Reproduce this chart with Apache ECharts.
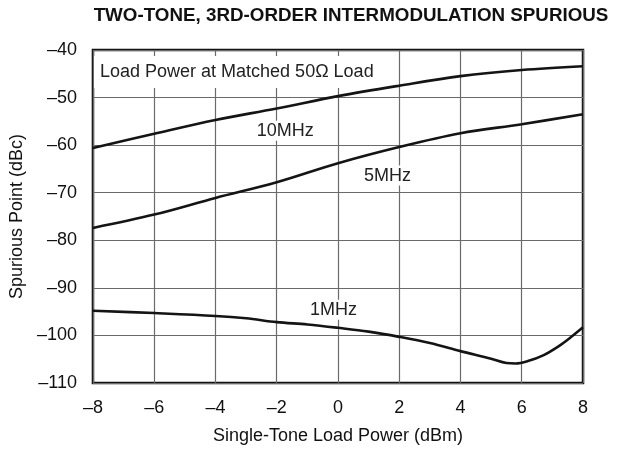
<!DOCTYPE html>
<html><head><meta charset="utf-8">
<script src="https://cdn.jsdelivr.net/npm/echarts@6/dist/echarts.min.js"></script>
<style>html,body{margin:0;padding:0;background:#fff}#c{width:639px;height:450px}</style>
</head><body><div id="c"></div>
<script>
const xTicks = [-8, -6, -4, -2, 0, 2, 4, 6, 8];
const yTicks = [-110, -100, -90, -80, -70, -60, -50, -40];

const x10 = [-8, -6, -4, -2, 0, 2, 4, 6, 8];
const y10 = [-60.6, -57.6, -54.7, -52.3, -49.7, -47.5, -45.5, -44.2, -43.4];

const x5 = [-8, -6, -4, -2, 0, 2, 4, 6, 8];
const y5 = [-77.4, -74.6, -71.1, -67.8, -63.8, -60.4, -57.5, -55.6, -53.5];

const x1 = [-8, -6, -4, -3, -2, -1, 0, 1, 2, 3, 4, 5, 5.5, 5.8, 6.2, 6.7, 7.2, 7.6, 8];
const y1 = [-94.8, -95.3, -95.9, -96.4, -97.2, -97.7, -98.4, -99.2, -100.3, -101.6, -103.3, -104.9, -105.8, -105.9, -105.4, -104.2, -102.3, -100.4, -98.3];

const labels = [
  {text: '10MHz', x: -1.72, y: -57.0},
  {text: '5MHz', x: 1.62, y: -66.4},
  {text: '1MHz', x: -0.15, y: -94.6}
];

const dash = v => String(v).replace('-', '\u2013');
const pairs = (xs, ys) => xs.map((x, i) => [x, ys[i]]);

const chart = echarts.init(document.getElementById('c'), null, {renderer: 'canvas'});
const FONT = 'Liberation Sans, Arial, Helvetica, sans-serif';
const FS = 18;
const lineStyle = {color: '#141414', width: 2.6};

function mkSeries(data, lab) {
  return {
    type: 'line', data: data, smooth: 0.35, showSymbol: false, symbol: 'none',
    lineStyle: lineStyle, z: 3,
    markPoint: {
      symbol: 'rect', symbolSize: 1, itemStyle: {color: 'rgba(0,0,0,0)'},
      z: 5,
      label: {show: true, position: 'inside', formatter: lab.text, color: '#222',
        fontFamily: FONT, fontSize: FS, backgroundColor: '#fff', padding: [1, 2]},
      data: [{coord: [lab.x, lab.y]}]
    }
  };
}

chart.setOption({
  animation: false,
  backgroundColor: '#fff',
  textStyle: {fontFamily: FONT},
  title: {
    text: 'TWO-TONE, 3RD-ORDER INTERMODULATION SPURIOUS',
    left: 346, top: 1, textAlign: 'center',
    textStyle: {fontFamily: FONT, fontWeight: 'bold', fontSize: 18.8, color: '#111'}
  },
  grid: {left: 92, right: 56, top: 50, bottom: 67, show: true, borderColor: '#111', borderWidth: 2.5, backgroundColor: 'transparent'},
  xAxis: {
    type: 'value', min: xTicks[0], max: xTicks[xTicks.length - 1], interval: 2,
    name: 'Single-Tone Load Power (dBm)', nameLocation: 'middle', nameGap: 44,
    nameTextStyle: {fontFamily: FONT, fontSize: FS, color: '#111'},
    axisLine: {show: false}, axisTick: {show: false},
    axisLabel: {formatter: dash, fontFamily: FONT, fontSize: FS, color: '#111', margin: 16},
    splitLine: {show: true, lineStyle: {color: '#6a6a6a', width: 1.2}}
  },
  yAxis: {
    type: 'value', min: yTicks[0], max: yTicks[yTicks.length - 1], interval: 10,
    name: 'Spurious Point (dBc)', nameLocation: 'middle', nameGap: 63,
    nameTextStyle: {fontFamily: FONT, fontSize: FS, color: '#111'},
    axisLine: {show: false}, axisTick: {show: false},
    axisLabel: {formatter: dash, fontFamily: FONT, fontSize: FS, color: '#111', margin: 16},
    splitLine: {show: true, lineStyle: {color: '#6a6a6a', width: 1.2}}
  },
  graphic: [
    {type: 'rect', left: 94, top: 56, z: 1, shape: {width: 300, height: 32}, style: {fill: '#fff'}},
    {type: 'text', left: 100, top: 63, z: 5, style: {text: 'Load Power at Matched 50\u03A9 Load', fontFamily: FONT, fontSize: FS, fill: '#222'}}
  ],
  series: [
    mkSeries(pairs(x10, y10), labels[0]),
    mkSeries(pairs(x5, y5), labels[1]),
    mkSeries(pairs(x1, y1), labels[2])
  ]
});
</script>
</body></html>
